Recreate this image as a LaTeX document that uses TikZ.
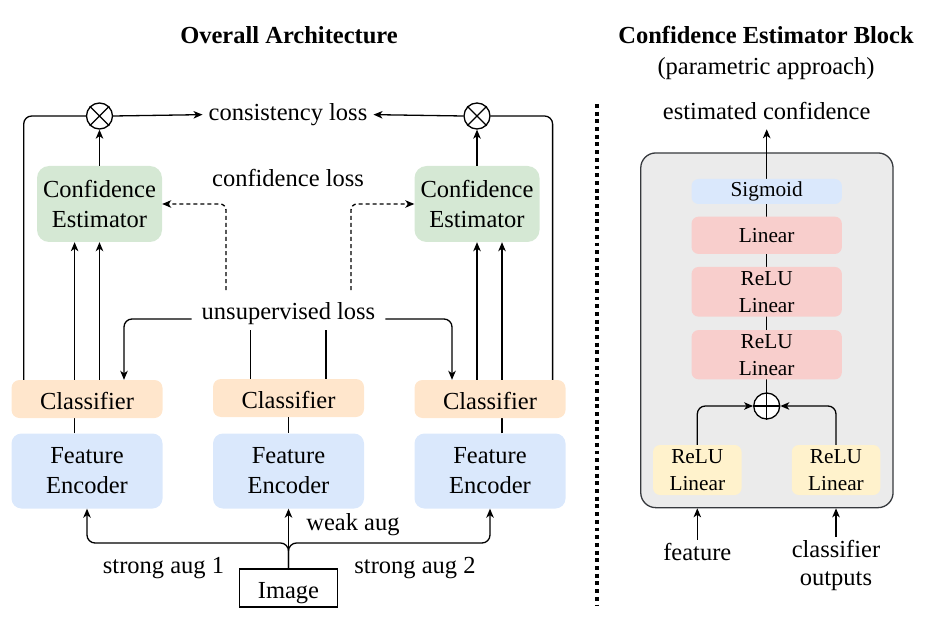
\documentclass[tikz,border=0pt]{standalone}
\usepackage{fontspec}
\setmainfont{Liberation Serif}
\usetikzlibrary{arrows.meta,calc}
\definecolor{cgreen}{HTML}{D5E8D4}
\definecolor{corange}{HTML}{FFE6CC}
\definecolor{cblue}{HTML}{DAE8FC}
\definecolor{cred}{HTML}{F8CECC}
\definecolor{cyellow}{HTML}{FFF2CC}
\definecolor{cgrey}{HTML}{EBEBEB}
\definecolor{cborder}{HTML}{36393D}
\newcommand\bodyfont{\fontsize{24.5}{30}\selectfont}
\newcommand\boxfont{\fontsize{21.3}{27}\selectfont}
\newcommand\titlefont{\bfseries\fontsize{24.5}{30}\selectfont}
\begin{document}
\begin{tikzpicture}[x=1pt,y=-1pt,
  every node/.style={font=\bodyfont, inner sep=3pt},
  lbl/.style={anchor=base},
  arr/.style={-{Stealth[length=9pt,width=7.5pt,inset=2.5pt]}},
  ln/.style={line width=1.3pt},
  dsh/.style={dash pattern=on 4pt off 3pt},
  circ/.style={circle, draw, line width=1.3pt, minimum size=26pt, inner sep=0pt, fill=white},
  box/.style={align=center, inner sep=0pt},
  cebox/.style={box, fill=cgreen, minimum width=125pt, minimum height=76pt, rounded corners=12pt},
  clsbox/.style={box, fill=corange, minimum width=151pt, minimum height=38pt, rounded corners=8pt, text height=21.5pt, text depth=0pt},
  febox/.style={box, fill=cblue, minimum width=151pt, minimum height=75pt, rounded corners=10pt},
  rbox/.style={box, font=\boxfont, minimum width=150.3pt, rounded corners=7pt},
  ybox/.style={box, font=\boxfont, fill=cyellow, minimum width=88.5pt, minimum height=50pt, rounded corners=7pt}]
\useasboundingbox (0,0) rectangle (936,620);

% ---------------- left panel ----------------
\node[lbl, font=\titlefont] (t1) at (289,43.3) {Overall Architecture};

\node[circ] (cL) at (99.5,116) {};
\draw[ln] (cL.north west) -- (cL.south east) (cL.north east) -- (cL.south west);
\node[circ] (cR) at (477,116) {};
\draw[ln] (cR.north west) -- (cR.south east) (cR.north east) -- (cR.south west);

\node[lbl, inner xsep=6pt] (cons) at (288,120.5) {consistency loss};
\node[lbl] (confl) at (288,186.5) {confidence loss};

\node[cebox] (ceL) at (99.5,204) {Confidence\\Estimator};
\node[cebox] (ceR) at (477,204) {Confidence\\Estimator};

\node[febox] (feL) at (87,471) {Feature\\Encoder};
\node[febox] (feM) at (288.5,471) {Feature\\Encoder};
\node[febox] (feR) at (490,471) {Feature\\Encoder};

% feature lines (behind classifiers)
\draw[ln,arr] ([xshift=-12.4pt]feL.north) -- ([xshift=-12.4pt]feL.north |- ceL.south);
\draw[ln,arr] ([xshift=12pt]feR.north) -- ([xshift=12pt]feR.north |- ceR.south);

\node[clsbox] (clsL) at (87,399) {Classifier};
\node[clsbox] (clsM) at (288.5,398) {Classifier};
\node[clsbox] (clsR) at (490,399) {Classifier};
\draw[ln] (clsM.south) -- (feM.north);

% classifier outputs into estimators
\draw[ln,arr] (clsL.north -| ceL.south) -- (ceL.south);
\draw[ln,arr] (clsR.north -| ceR.south) -- (ceR.south);
\draw[ln,arr] (ceL.north) -- (cL.south);
\draw[ln,arr] (ceR.north) -- (cR.south);
\draw[ln,rounded corners=8pt] ([xshift=-63.3pt]clsL.north) |- (cL.west);
\draw[ln,rounded corners=8pt] ([xshift=62.6pt]clsR.north) |- (cR.east);
\draw[ln,arr] (cL.east) -- (cons.west);
\draw[ln,arr] (cR.west) -- (cons.east);

% unsupervised loss
\node[lbl, inner xsep=10pt, inner ysep=5.5pt] (unsup) at (288.5,319) {unsupervised loss};
\draw[ln,arr,rounded corners=8pt] (unsup.base west) -| ([xshift=37pt]clsL.north);
\draw[ln,arr,rounded corners=8pt] (unsup.base east) -| ([xshift=-38pt]clsR.north);
\draw[ln] ([xshift=-37.8pt]clsM.north) -- ([xshift=-37.8pt]clsM.north |- unsup.south);
\draw[ln] ([xshift=37.5pt]clsM.north) -- ([xshift=37.5pt]clsM.north |- unsup.south);

% confidence loss (dashed)
\coordinate (dL) at (226,290);
\coordinate (dR) at (351,290);
\draw[ln,arr,dsh,rounded corners=6pt] (dL) |- (ceL.east);
\draw[ln,arr,dsh,rounded corners=6pt] (dR) |- (ceR.west);

% image and augmentations
\node[draw, line width=1.3pt, fill=white, minimum width=98.5pt, minimum height=38pt, inner sep=0pt, text height=20pt, text depth=0pt] (img) at (288.5,588) {Image};
\coordinate (split) at (288.5,543);
\draw[ln,arr,rounded corners=8pt] (img.north) -- (split) -| (feL.south);
\draw[ln,arr,rounded corners=8pt] (img.north) -- (split) -| (feR.south);
\draw[ln,arr] (img.north) -- (feM.south);
\node[lbl] (weak) at (353,530) {weak aug};
\node[lbl] (s1) at (163.5,573.5) {strong aug 1};
\node[lbl] (s2) at (415,573.5) {strong aug 2};

% separator
\coordinate (sepT) at (596.7,104);
\coordinate (sepB) at (596.7,606);
\draw[line width=3.8pt, dash pattern=on 3.9pt off 3.8pt] (sepT) -- (sepB);

% ---------------- right panel ----------------
\node[lbl, font=\titlefont] (t2) at (766,43.3) {Confidence Estimator Block};
\node[lbl] (t3) at (766,75) {(parametric approach)};
\node[lbl, inner ysep=9.5pt] (est) at (766.7,119.3) {estimated confidence};

\node[draw=cborder, fill=cgrey, line width=1.3pt, rounded corners=15pt, minimum width=252.3pt, minimum height=354.7pt, inner sep=0pt] (grey) at (766.9,330.3) {};
\node[circ] (plus) at (766.7,406) {};
\draw[ln] (plus.north) -- (plus.south) (plus.west) -- (plus.east);
\draw[ln,arr] (plus.north) -- (est.south);

\node[rbox, fill=cblue, minimum height=25pt] (sig) at (766.7,191.5) {Sigmoid};
\node[rbox, fill=cred, minimum height=37.3pt] (lin) at (766.7,235.3) {Linear};
\node[rbox, fill=cred, minimum height=49.7pt] (rl1) at (766.7,291.8) {ReLU\\Linear};
\node[rbox, fill=cred, minimum height=49.3pt] (rl2) at (766.7,354.7) {ReLU\\Linear};

\node[ybox] (yL) at (697.3,470) {ReLU\\Linear};
\node[ybox] (yR) at (836,470) {ReLU\\Linear};
\draw[ln,arr,rounded corners=8pt] (yL.north) |- (plus.west);
\draw[ln,arr,rounded corners=8pt] (yR.north) |- (plus.east);

\node[lbl] (feat) at (697.3,560) {feature};
\draw[ln,arr] (feat.north) -- (feat.north |- grey.south);
\node[anchor=north, align=center, font=\fontsize{24.5}{28.5}\selectfont] (clo) at (836,537) {classifier\\outputs};
\draw[ln,arr] (clo.north) -- (clo.north |- grey.south);
\end{tikzpicture}
\end{document}
